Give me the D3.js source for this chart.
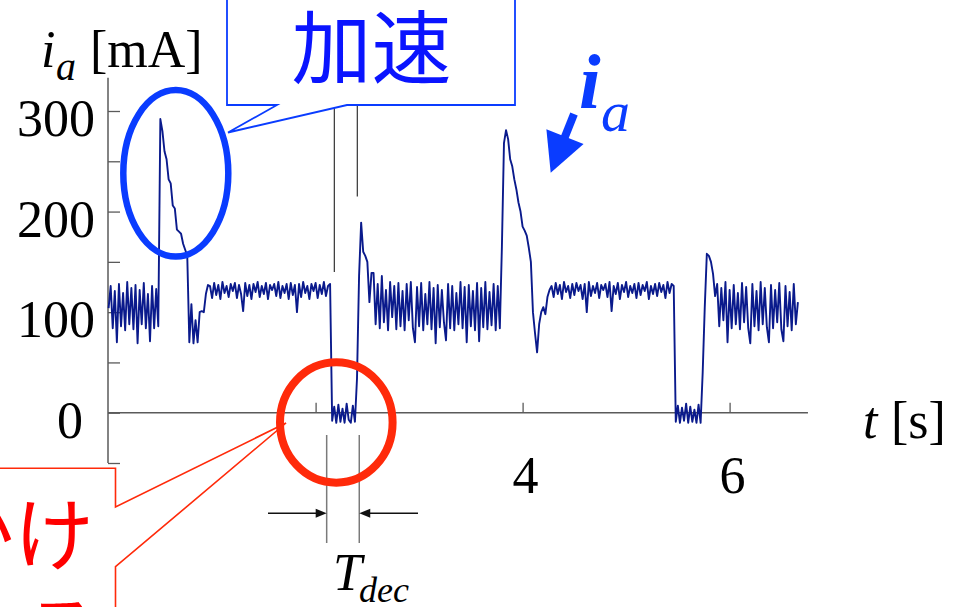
<!DOCTYPE html>
<html>
<head>
<meta charset="utf-8">
<script src="https://cdn.jsdelivr.net/npm/d3@7"></script>
<style>
  html, body { margin: 0; padding: 0; background: #fff; }
  svg { display: block; }
</style>
</head>
<body>
<svg id="chart" width="953" height="607"></svg>
<script>
// Armature current i_a [mA], sampled every 20 ms.
const sampleStep = 0.02;

// running at constant speed (before first acceleration)
const run1 = [104, 126, 84, 121, 70, 128, 86, 119, 82, 130, 88, 124, 83, 127, 69, 122, 88, 129, 84, 118, 71, 126, 84, 123, 86];
// acceleration surge and settling
const accel1 = [292, 280, 260, 252, 232, 228, 206, 203, 182, 180, 178, 168, 162, 156, 70, 108, 69, 92, 70, 100, 101, 100, 118, 127];
// cruising
const cruise1 = [126, 114, 129, 117, 127, 113, 130, 119, 126, 115, 128, 121, 129, 114, 127, 118, 101, 129, 116, 127, 113, 128, 120, 130, 115, 126, 118, 129, 113, 127, 122, 128, 116, 130, 114, 126, 119, 128, 113, 129, 117, 127, 100, 128, 115, 130, 119, 126, 113, 128, 121, 129, 114, 127, 118, 130, 116, 126, 128];
// deceleration (braking)
const brake1 = [-8, 6, -10, 8, -9, 4, -10, 9, -7, -10, 7, -9];
const restart1 = [34, 136, 189, 160, 156, 150, 110, 139];
const run2 = [139, 88, 128, 84, 136, 90, 122, 82, 130, 95, 126, 83, 129, 86, 121, 82, 128, 92, 130, 84, 70, 125, 86, 129, 82, 118, 88, 130, 83, 124, 69, 127, 85, 122, 90, 72, 128, 84, 126, 82, 119, 88, 130, 84, 125, 70, 127, 86, 121, 82, 129, 71, 124, 85, 130, 83, 120, 87, 128, 82, 126, 84];
const accel2 = [165, 268, 281, 272, 252, 245, 232, 222, 209, 200, 185, 181, 176, 164, 150, 100, 79, 60, 88, 100, 105, 98, 115, 122];
const cruise2 = [126, 115, 129, 118, 127, 113, 130, 120, 126, 114, 128, 117, 129, 121, 127, 113, 128, 100, 130, 116, 126, 119, 129, 114, 127, 122, 128, 115, 130, 101, 126, 118, 129, 113, 127, 120, 130, 115, 126, 119, 128, 114, 129, 117, 127, 121, 130, 113, 126, 118, 128, 116, 129, 120, 127, 114, 130, 119, 128, 126];
const brake2 = [-9, 7, -10, 5, -8, 9, -10, 6, -9, 3, -10, 8, -10];
const restart2 = [40, 105, 158, 156, 150, 138];
const run3 = [116, 128, 86, 124, 92, 130, 70, 122, 84, 127, 88, 119, 83, 129, 90, 125, 84, 69, 128, 86, 121, 82, 130, 88, 124, 85, 70, 127, 84, 122, 90, 129, 83, 71, 126, 86, 120, 82, 128, 88, 110];

// start time [s] of each recorded segment
const segmentStarts = [0.00, 0.50, 0.98, 2.16, 2.40, 2.56, 3.80, 4.28, 5.48, 5.74, 5.86];
const segmentValues = [run1, accel1, cruise1, brake1, restart1, run2, accel2, cruise2, brake2, restart2, run3];

// axes
const yTicks = [-50, 0, 50, 100, 150, 200, 250, 300];
const yTickLabels = [0, 100, 200, 300];
const xTicks = [2, 4, 6];
const xTickLabels = [4, 6];
const yAxisTop = 333;   // mA
const tAxisEnd = 6.757; // s

// deceleration interval T_dec and guide lines
const decelBounds = [2.107, 2.422];
const guideLines = [{ t: 2.181, bottom: 140 }, { t: 2.403, bottom: 215 }];

const serif = "'Liberation Serif', 'Times New Roman', serif";
const cjk = "'Noto Sans CJK JP', 'Noto Sans CJK SC', sans-serif";
const traceColor = "#0a1a8c";
const blue = "#0a3cff";
const red = "#ff2a0a";

const svg = d3.select("#chart");

const x = d3.scaleLinear().domain([0, 6]).range([108.6, 108.6 + 6 * 103.5]);
const y = d3.scaleLinear().domain([-50, 300]).range([463, 111]);

const series = [];
segmentValues.forEach((vals, s) => {
  vals.forEach((v, i) => series.push({ t: segmentStarts[s] + i * sampleStep, v }));
});

// ---- axes ----
const axisColor = "#5a5a5a";
const x0 = 108;

const yAxis = d3.axisRight(y).tickValues(yTicks).tickSizeInner(12).tickSizeOuter(0).tickFormat("");
const gy = svg.append("g").attr("transform", `translate(${x0},0)`).call(yAxis);
gy.select(".domain").remove();
gy.selectAll(".tick line").attr("stroke", axisColor).attr("stroke-width", 1.3);

const xAxis = d3.axisTop(x).tickValues(xTicks).tickSizeInner(10).tickSizeOuter(0).tickFormat("");
const gx = svg.append("g").attr("transform", `translate(0,${y(0)})`).call(xAxis);
gx.select(".domain").remove();
gx.selectAll(".tick line").attr("stroke", axisColor).attr("stroke-width", 1.3);

svg.append("line")
  .attr("x1", x0).attr("x2", x0)
  .attr("y1", y(yAxisTop)).attr("y2", y(-50))
  .attr("stroke", axisColor).attr("stroke-width", 1.5);
svg.append("line")
  .attr("x1", x0).attr("x2", x(tAxisEnd))
  .attr("y1", y(0)).attr("y2", y(0))
  .attr("stroke", axisColor).attr("stroke-width", 1.5);

// tick labels
svg.append("g").selectAll("text").data(yTickLabels).join("text")
  .attr("x", d => d === 0 ? 83 : 95)
  .attr("y", d => y(d) + 25)
  .attr("text-anchor", "end")
  .attr("font-family", serif).attr("font-size", 52)
  .text(d => d);

svg.append("g").selectAll("text").data(xTickLabels).join("text")
  .attr("x", d => x(d) + 3)
  .attr("y", 493)
  .attr("text-anchor", "middle")
  .attr("font-family", serif).attr("font-size", 52)
  .text(d => d);

// axis titles
const yTitle = svg.append("g").attr("font-family", serif);
yTitle.append("text").attr("x", 41).attr("y", 67).attr("font-size", 52).attr("font-style", "italic").text("i");
yTitle.append("text").attr("x", 56).attr("y", 80).attr("font-size", 40).attr("font-style", "italic").text("a");
yTitle.append("text").attr("x", 90).attr("y", 67).attr("font-size", 52).text("[mA]");

const xTitle = svg.append("g").attr("font-family", serif);
xTitle.append("text").attr("x", 863).attr("y", 438).attr("font-size", 52).attr("font-style", "italic").text("t");
xTitle.append("text").attr("x", 891).attr("y", 438).attr("font-size", 52).text("[s]");

// ---- guide lines ----
svg.append("g").selectAll("line").data(guideLines).join("line")
  .attr("x1", d => x(d.t)).attr("x2", d => x(d.t))
  .attr("y1", 105).attr("y2", d => y(d.bottom))
  .attr("stroke", "#333").attr("stroke-width", 1.2);

// ---- current trace ----
svg.append("path")
  .datum(series)
  .attr("fill", "none")
  .attr("stroke", traceColor)
  .attr("stroke-width", 1.9)
  .attr("stroke-linejoin", "round")
  .attr("d", d3.line().x(d => x(d.t)).y(d => y(d.v)));

// ---- T_dec markers ----
const tdec = svg.append("g");
tdec.selectAll("line").data(decelBounds).join("line")
  .attr("x1", d => x(d)).attr("x2", d => x(d))
  .attr("y1", 435).attr("y2", 543)
  .attr("stroke", "#7a7a7a").attr("stroke-width", 1.5);

function arrow(g, xFrom, xTo, yy) {
  const dir = Math.sign(xTo - xFrom);
  g.append("line").attr("x1", xFrom).attr("x2", xTo - dir * 8).attr("y1", yy).attr("y2", yy)
    .attr("stroke", "#111").attr("stroke-width", 1.5);
  g.append("path")
    .attr("d", `M${xTo},${yy} L${xTo - dir * 11},${yy - 4.5} L${xTo - dir * 11},${yy + 4.5} Z`)
    .attr("fill", "#111");
}
arrow(tdec, 268, x(decelBounds[0]), 513.3);
arrow(tdec, 418, x(decelBounds[1]), 513.3);

tdec.append("text").attr("x", 333).attr("y", 590).attr("font-family", serif)
  .attr("font-size", 52).attr("font-style", "italic").text("T");
tdec.append("text").attr("x", 359).attr("y", 602).attr("font-family", serif)
  .attr("font-size", 36).attr("font-style", "italic").text("dec");

// ---- acceleration callout (blue) ----
svg.append("path")
  .attr("d", "M227,-5 V105 H277 L228,132.5 L347,105 H515 V-5 Z")
  .attr("fill", "#fff").attr("stroke", blue).attr("stroke-width", 1.8);
svg.append("text").attr("x", 371.5).attr("y", 77)
  .attr("text-anchor", "middle").attr("font-family", cjk).attr("font-size", 80)
  .attr("fill", "#0a14ff").text("加速");
svg.append("ellipse")
  .attr("cx", 175.8).attr("cy", 173.3).attr("rx", 52.5).attr("ry", 83.3)
  .attr("fill", "none").attr("stroke", blue).attr("stroke-width", 6.5);

// i_a pointer
(function () {
  const sx = 574, sy = 114, tx = 550.7, ty = 172.7;
  const len = Math.hypot(tx - sx, ty - sy);
  const ux = (tx - sx) / len, uy = (ty - sy) / len;
  const headLen = 38.7, half = 20;
  const bx = tx - ux * headLen, by = ty - uy * headLen;
  const px = -uy, py = ux;
  svg.append("line").attr("x1", sx).attr("y1", sy).attr("x2", bx + ux * 2).attr("y2", by + uy * 2)
    .attr("stroke", blue).attr("stroke-width", 8);
  svg.append("path")
    .attr("d", `M${tx},${ty} L${bx + px * half},${by + py * half} L${bx - px * half},${by - py * half} Z`)
    .attr("fill", blue);
})();
svg.append("text").attr("x", 579).attr("y", 108).attr("font-family", serif)
  .attr("font-size", 78).attr("font-style", "italic").attr("font-weight", "bold")
  .attr("fill", blue).text("i");
svg.append("text").attr("x", 601).attr("y", 131).attr("font-family", serif)
  .attr("font-size", 58).attr("font-style", "italic")
  .attr("fill", blue).text("a");

// ---- braking callout (red) ----
svg.append("path")
  .attr("d", "M-5,468.3 H115.5 V507 L286,423 L115.5,566.7 V612 H-5 Z")
  .attr("fill", "#fff").attr("stroke", red).attr("stroke-width", 1.6);
svg.append("text").attr("x", 94).attr("y", 564)
  .attr("text-anchor", "end").attr("font-family", cjk).attr("font-size", 80)
  .attr("fill", "#ff0000").text("ブレーキをかけ");
svg.append("text").attr("x", 22).attr("y", 662)
  .attr("font-family", cjk).attr("font-size", 80)
  .attr("fill", "#ff0000").text("る");
svg.append("ellipse")
  .attr("cx", 336.3).attr("cy", 422.5).attr("rx", 56.3).attr("ry", 60.2)
  .attr("fill", "none").attr("stroke", red).attr("stroke-width", 8);
</script>
</body>
</html>
